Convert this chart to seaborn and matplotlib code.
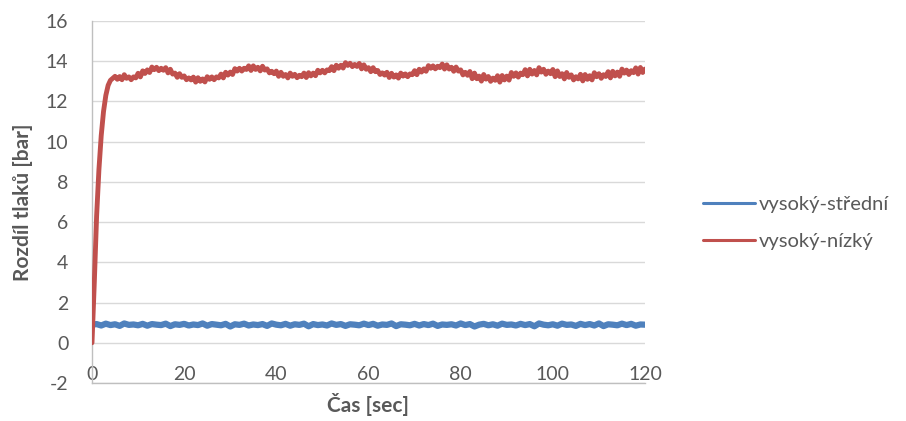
import numpy as np
import pandas as pd
import matplotlib
matplotlib.use("Agg")
import matplotlib.pyplot as plt
from matplotlib.lines import Line2D
import seaborn as sns

# ---------------- data ----------------
series_names = ["vysoký-střední", "vysoký-nízký"]

# vysoký-střední, sampled every 1 s from 0 to 120 s
blue_vals = [
    0.90, 0.93, 0.86, 0.95, 0.88, 0.92, 0.84, 0.96, 0.89, 0.91,
    0.87, 0.94, 0.85, 0.93, 0.90, 0.88, 0.95, 0.83, 0.92, 0.89,
    0.94, 0.86, 0.91, 0.88, 0.96, 0.85, 0.93, 0.90, 0.87, 0.94,
    0.81, 0.92, 0.89, 0.95, 0.86, 0.91, 0.88, 0.93, 0.84, 0.96,
    0.90, 0.87, 0.94, 0.85, 0.92, 0.89, 0.95, 0.82, 0.93, 0.88,
    0.91, 0.86, 0.96, 0.89, 0.93, 0.84, 0.92, 0.90, 0.87, 0.95,
    0.88, 0.94, 0.85, 0.91, 0.89, 0.96, 0.83, 0.92, 0.90, 0.87,
    0.94, 0.86, 0.93, 0.88, 0.95, 0.84, 0.91, 0.89, 0.92, 0.86,
    0.96, 0.88, 0.93, 0.81, 0.90, 0.94, 0.87, 0.92, 0.85, 0.95,
    0.89, 0.91, 0.86, 0.94, 0.88, 0.93, 0.82, 0.96, 0.90, 0.87,
    0.92, 0.85, 0.95, 0.89, 0.91, 0.84, 0.94, 0.88, 0.93, 0.86,
    0.96, 0.83, 0.92, 0.90, 0.87, 0.95, 0.88, 0.94, 0.85, 0.91, 0.90,
]

# vysoký-nízký, sampled every 0.5 s from 0 to 120 s
red_rise = [0.0, 3.0, 6.3, 8.6, 10.3, 11.5, 12.3, 12.8, 13.05, 13.15]
red_main = [
    13.25, 13.10, 13.24, 13.08, 13.33, 13.15, 13.22, 13.08, 13.22, 13.17,
    13.40, 13.22, 13.52, 13.39, 13.57, 13.44, 13.71, 13.58, 13.70, 13.53,
    13.65, 13.55, 13.68, 13.42, 13.60, 13.36, 13.41, 13.20, 13.38, 13.20,
    13.27, 13.08, 13.17, 13.07, 13.21, 12.96, 13.18, 13.00, 13.12, 12.97,
    13.23, 13.10, 13.22, 13.08, 13.22, 13.17, 13.36, 13.17, 13.45, 13.31,
    13.46, 13.34, 13.63, 13.51, 13.65, 13.51, 13.65, 13.59, 13.77, 13.54,
    13.77, 13.59, 13.70, 13.52, 13.75, 13.56, 13.62, 13.42, 13.50, 13.38,
    13.51, 13.25, 13.45, 13.25, 13.34, 13.17, 13.41, 13.25, 13.35, 13.18,
    13.30, 13.23, 13.41, 13.19, 13.43, 13.27, 13.41, 13.28, 13.55, 13.42,
    13.55, 13.42, 13.57, 13.53, 13.73, 13.53, 13.80, 13.65, 13.80, 13.66,
    13.93, 13.79, 13.90, 13.73, 13.84, 13.74, 13.89, 13.62, 13.82, 13.60,
    13.68, 13.48, 13.68, 13.48, 13.54, 13.34, 13.42, 13.31, 13.45, 13.19,
    13.40, 13.21, 13.32, 13.16, 13.41, 13.26, 13.37, 13.23, 13.37, 13.33,
    13.53, 13.33, 13.60, 13.46, 13.62, 13.50, 13.78, 13.65, 13.77, 13.62,
    13.75, 13.68, 13.86, 13.61, 13.82, 13.61, 13.70, 13.50, 13.71, 13.51,
    13.57, 13.32, 13.45, 13.30, 13.49, 13.13, 13.41, 13.13, 13.26, 13.01,
    13.34, 13.11, 13.24, 13.00, 13.16, 13.05, 13.28, 12.96, 13.29, 13.07,
    13.26, 13.06, 13.44, 13.25, 13.42, 13.21, 13.41, 13.33, 13.58, 13.27,
    13.60, 13.36, 13.54, 13.32, 13.68, 13.46, 13.60, 13.35, 13.51, 13.38,
    13.59, 13.23, 13.52, 13.24, 13.38, 13.12, 13.44, 13.20, 13.32, 13.07,
    13.23, 13.12, 13.35, 13.02, 13.34, 13.10, 13.28, 13.07, 13.43, 13.23,
    13.38, 13.15, 13.33, 13.24, 13.48, 13.17, 13.50, 13.27, 13.46, 13.25,
    13.61, 13.41, 13.56, 13.34, 13.53, 13.43, 13.67, 13.36, 13.69, 13.44,
    13.61,
]
red_vals = red_rise + red_main

x_ticks = [0, 20, 40, 60, 80, 100, 120]
y_ticks = [-2, 0, 2, 4, 6, 8, 10, 12, 14, 16]
x_label = "Čas [sec]"
y_label = "Rozdíl tlaků [bar]"

# sampling grids (time axis of each recording)
t_blue = np.linspace(0, 120, len(blue_vals))
t_red = np.linspace(0, 120, len(red_vals))

df_blue = pd.DataFrame({"t": t_blue, "v": blue_vals})
df_red = pd.DataFrame({"t": t_red, "v": red_vals})

# ---------------- style ----------------
sns.set_style("white")
plt.rcParams["font.family"] = ["Lato", "DejaVu Sans"]
plt.rcParams["axes.unicode_minus"] = False

BLUE = "#4F81BD"
RED = "#C0504D"
TXT = "#595959"
GRID = "#D9D9D9"
AXIS = "#BFBFBF"

fig = plt.figure(figsize=(9.06, 4.21), dpi=100)
W, H = 906, 421
ax = fig.add_axes([92 / W, 38 / H, (645 - 92) / W, (383 - 21) / H])

sns.lineplot(data=df_blue, x="t", y="v", ax=ax, color=BLUE, lw=4.5,
             estimator=None, sort=False, zorder=3)
sns.lineplot(data=df_red, x="t", y="v", ax=ax, color=RED, lw=3.5,
             estimator=None, sort=False, zorder=4)

ax.set_xlim(0, 120)
ax.set_ylim(-2, 16)
ax.set_xticks(x_ticks)
ax.set_yticks(y_ticks)
ax.set_xlabel("")
ax.set_ylabel("")

ax.yaxis.grid(True, color=GRID, lw=1.0, zorder=0)
ax.xaxis.grid(False)
for s in ["top", "right"]:
    ax.spines[s].set_visible(False)
for s in ["left", "bottom"]:
    ax.spines[s].set_color(AXIS)
    ax.spines[s].set_linewidth(1.0)

ax.tick_params(axis="y", length=0, pad=17, labelsize=14, labelcolor=TXT)
ax.tick_params(axis="x", length=0, pad=-12, labelsize=14, labelcolor=TXT)

fig.text(23 / W, 1 - 202 / H, y_label, rotation=90, ha="center", va="center",
         fontsize=15, fontweight="bold", color=TXT)
fig.text(368 / W, 1 - 405 / H, x_label, ha="center", va="center",
         fontsize=15, fontweight="bold", color=TXT)

handles = [Line2D([], [], color=BLUE, lw=2.2), Line2D([], [], color=RED, lw=2.2)]
fig.legend(handles, series_names, loc="center left",
           bbox_to_anchor=(703 / W, 1 - 223 / H), frameon=False,
           borderpad=0, borderaxespad=0, handlelength=2.6, handletextpad=0.15,
           labelspacing=0.95, fontsize=14.5, labelcolor=TXT)

fig.savefig("out.png", dpi=100)
